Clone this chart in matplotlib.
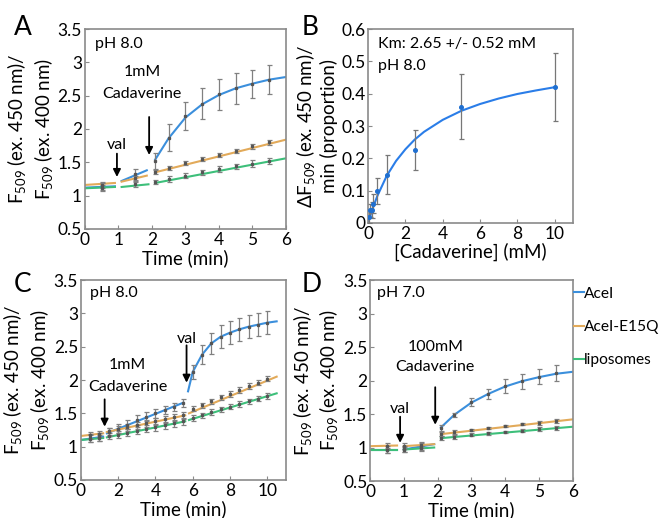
import matplotlib
matplotlib.use('Agg')
from matplotlib import pyplot as plt

plt.rcParams['font.family'] = ['Lato', 'DejaVu Sans']
plt.rcParams['mathtext.fontset'] = 'custom'
plt.rcParams['mathtext.rm'] = 'Lato'
plt.rcParams['mathtext.it'] = 'Lato'

blue = '#3b8fdc'
orange = '#e2aa5a'
green = '#3dbf7a'
series_names = ['AceI', 'AceI-E15Q', 'liposomes']

# ---- panel A (pH 8.0, 1mM cadaverine) ----
a_blue_lines = [([0, 0.9], [1.12, 1.14]),
                ([1.1, 1.85], [1.22, 1.38]),
                ([2.1, 2.5, 3, 3.5, 4, 4.5, 5, 5.5, 6],
                 [1.54, 1.86, 2.17, 2.37, 2.51, 2.61, 2.68, 2.74, 2.78])]
a_orange_lines = [([0, 0.9], [1.16, 1.19]),
                  ([1.1, 1.85], [1.21, 1.30]),
                  ([2.1, 6], [1.35, 1.84])]
a_green_lines = [([0, 0.9], [1.11, 1.13]),
                 ([1.1, 1.9], [1.13, 1.17]),
                 ([2.1, 6], [1.19, 1.56])]
a_blue_t = [0.5, 1.5, 2.1, 2.5, 3, 3.5, 4, 4.5, 5, 5.5]
a_blue_y = [1.13, 1.32, 1.52, 1.87, 2.2, 2.38, 2.52, 2.61, 2.67, 2.74]
a_blue_e = [0.06, 0.08, 0.12, 0.2, 0.21, 0.23, 0.23, 0.23, 0.21, 0.22]
a_orange_t = [0.5, 1.5, 2.1, 2.5, 3, 3.5, 4, 4.5, 5, 5.5]
a_orange_y = [1.16, 1.26, 1.36, 1.41, 1.49, 1.55, 1.61, 1.67, 1.74, 1.80]
a_orange_e = [0.04, 0.04, 0.03, 0.03, 0.03, 0.03, 0.03, 0.03, 0.04, 0.04]
a_green_t = [0.5, 1.5, 2.1, 2.5, 3, 3.5, 4, 4.5, 5, 5.5]
a_green_y = [1.12, 1.17, 1.20, 1.25, 1.30, 1.35, 1.40, 1.44, 1.48, 1.52]
a_green_e = [0.04, 0.04, 0.03, 0.04, 0.04, 0.04, 0.04, 0.04, 0.05, 0.05]

# ---- panel B (Km fit) ----
b_conc = [0.05, 0.1, 0.2, 0.25, 0.5, 1, 2.5, 5, 10]
b_rate = [0.02, 0.04, 0.04, 0.06, 0.10, 0.15, 0.225, 0.36, 0.42]
b_err = [0.02, 0.02, 0.025, 0.03, 0.04, 0.06, 0.062, 0.1, 0.105]
b_fit_x = [0, 0.1, 0.25, 0.5, 1, 1.5, 2, 2.5, 3, 4, 5, 6, 7, 8, 9, 10]
b_fit_y = [0, 0.019, 0.046, 0.084, 0.146, 0.192, 0.228, 0.258, 0.282,
           0.319, 0.347, 0.368, 0.385, 0.399, 0.410, 0.420]

# ---- panel C (pH 8.0, cadaverine then val) ----
c_blue_lines = [([0, 1.2], [1.10, 1.15]),
                ([1.4, 5.5], [1.20, 1.66]),
                ([5.75, 6, 6.5, 7, 7.5, 8, 8.5, 9, 9.5, 10, 10.5],
                 [1.83, 2.12, 2.38, 2.55, 2.65, 2.71, 2.76, 2.80, 2.83, 2.86, 2.88])]
c_orange_lines = [([0, 1.2], [1.16, 1.20]),
                  ([1.4, 5.6], [1.22, 1.47]),
                  ([5.8, 10.5], [1.50, 2.05])]
c_green_lines = [([0, 1.2], [1.10, 1.13]),
                 ([1.4, 5.6], [1.14, 1.38]),
                 ([5.8, 10.5], [1.40, 1.80])]
c_t1 = [0.5, 1, 1.5, 2, 2.5, 3, 3.5, 4, 4.5, 5, 5.5]
c_t2 = [6, 6.5, 7, 7.5, 8, 8.5, 9, 9.5, 10]
c_blue_y = [1.13, 1.15, 1.22, 1.27, 1.33, 1.40, 1.45, 1.50, 1.55, 1.60, 1.65,
            2.12, 2.38, 2.55, 2.65, 2.71, 2.76, 2.80, 2.83, 2.86]
c_blue_e = [0.06, 0.06, 0.06, 0.07, 0.07, 0.07, 0.07, 0.07, 0.06, 0.06, 0.06,
            0.1, 0.14, 0.16, 0.17, 0.17, 0.17, 0.17, 0.17, 0.17]
c_orange_y = [1.17, 1.19, 1.23, 1.26, 1.29, 1.32, 1.35, 1.38, 1.41, 1.44, 1.47,
              1.57, 1.62, 1.68, 1.74, 1.79, 1.85, 1.91, 1.96, 2.02]
c_green_y = [1.12, 1.13, 1.16, 1.18, 1.21, 1.24, 1.27, 1.29, 1.32, 1.35, 1.38,
             1.43, 1.47, 1.52, 1.56, 1.60, 1.64, 1.68, 1.72, 1.76]
c_small_e = [0.05] * 11 + [0.04] * 9

# ---- panel D (pH 7.0, 100mM cadaverine) ----
d_blue_lines = [([0, 0.8], [0.97, 0.97]),
                ([1.0, 1.9], [0.97, 1.05]),
                ([2.1, 2.5, 3, 3.5, 4, 4.5, 5, 5.5, 6],
                 [1.30, 1.49, 1.67, 1.80, 1.91, 1.99, 2.05, 2.10, 2.13])]
d_orange_lines = [([0, 0.8], [1.02, 1.03]),
                  ([1.0, 1.9], [1.02, 1.05]),
                  ([2.1, 6], [1.20, 1.42])]
d_green_lines = [([0, 0.8], [0.97, 0.97]),
                 ([1.0, 1.9], [0.97, 1.00]),
                 ([2.1, 6], [1.14, 1.31])]
d_t = [0.5, 1, 1.5, 2.1, 2.5, 3, 3.5, 4, 4.5, 5, 5.5]
d_blue_y = [0.97, 0.98, 1.01, 1.29, 1.49, 1.68, 1.80, 1.92, 1.99, 2.06, 2.11]
d_blue_e = [0.05, 0.05, 0.05, 0.05, 0.03, 0.06, 0.08, 0.1, 0.11, 0.11, 0.12]
d_orange_y = [1.02, 1.02, 1.04, 1.20, 1.23, 1.26, 1.29, 1.32, 1.35, 1.37, 1.39]
d_green_y = [0.96, 0.97, 0.99, 1.14, 1.16, 1.19, 1.21, 1.23, 1.25, 1.27, 1.29]
d_small_e = [0.04, 0.04, 0.04, 0.03, 0.03, 0.02, 0.02, 0.02, 0.02, 0.03, 0.03]

ylab = 'F$_{509}$ (ex. 450 nm)/\nF$_{509}$ (ex. 400 nm)'

fig = plt.figure(figsize=(6.62, 5.18), dpi=100)
axA = fig.add_axes([0.128, 0.558, 0.304, 0.386])
axB = fig.add_axes([0.556, 0.5695, 0.310, 0.3745])
axC = fig.add_axes([0.122, 0.0734, 0.310, 0.386])
axD = fig.add_axes([0.559, 0.0714, 0.306, 0.388])


def style(ax):
    for s in ax.spines.values():
        s.set_color('#8a8a8a')
        s.set_linewidth(1.2)
    ax.tick_params(direction='in', length=3, color='#8a8a8a', labelsize=12.5, pad=2)


def draw_lines(ax, segs, col, label=None):
    for i, (x, y) in enumerate(segs):
        ax.plot(x, y, color=col, lw=1.5, label=label if i == 0 else None, zorder=2)


def draw_pts(ax, t, y, e):
    ax.errorbar(t, y, yerr=e, fmt='s', ms=1.4, color='#555555', ecolor='#808080',
                elinewidth=0.9, capsize=1.8, capthick=0.9, zorder=3)


def arrow(ax, x, y0, y1):
    ax.annotate('', xy=(x, y1), xytext=(x, y0),
                arrowprops=dict(arrowstyle='-|>', color='black', lw=1.3,
                                mutation_scale=11, shrinkA=0, shrinkB=0))


def time_axis(ax, xmax, ticks):
    ax.set_xlim(0, xmax)
    ax.set_ylim(0.5, 3.5)
    ax.set_xticks(ticks)
    ax.set_yticks([0.5, 1, 1.5, 2, 2.5, 3, 3.5])
    ax.set_yticklabels(['0.5', '1', '1.5', '2', '2.5', '3', '3.5'])
    ax.set_xlabel('Time (min)', fontsize=13.5, labelpad=1)


# panel A
draw_lines(axA, a_blue_lines, blue)
draw_lines(axA, a_orange_lines, orange)
draw_lines(axA, a_green_lines, green)
draw_pts(axA, a_blue_t, a_blue_y, a_blue_e)
draw_pts(axA, a_orange_t, a_orange_y, a_orange_e)
draw_pts(axA, a_green_t, a_green_y, a_green_e)
time_axis(axA, 6, range(0, 7))
axA.set_ylabel(ylab, fontsize=13.5, labelpad=2)
axA.text(0.3, 3.27, 'pH 8.0', fontsize=11.5, va='center')
axA.text(1.71, 2.85, '1mM', fontsize=11.5, ha='center', va='center')
axA.text(1.71, 2.53, 'Cadaverine', fontsize=11.5, ha='center', va='center')
arrow(axA, 1.92, 2.18, 1.61)
axA.text(0.96, 1.76, 'val', fontsize=11.5, ha='center', va='center')
arrow(axA, 0.96, 1.63, 1.28)
style(axA)

# panel B
axB.plot(b_fit_x, b_fit_y, color='#2a7de8', lw=1.5, zorder=2)
axB.errorbar(b_conc, b_rate, yerr=b_err, fmt='o', ms=2.6, color='#1f6fd0', ecolor='#777777',
             elinewidth=0.9, capsize=1.8, capthick=0.9, zorder=3)
axB.set_xlim(0, 11)
axB.set_ylim(0, 0.6)
axB.set_xticks([0, 2, 4, 6, 8, 10])
axB.set_yticks([0, 0.1, 0.2, 0.3, 0.4, 0.5, 0.6])
axB.set_yticklabels(['0', '0.1', '0.2', '0.3', '0.4', '0.5', '0.6'])
axB.set_xlabel('[Cadaverine] (mM)', fontsize=13.5, labelpad=1)
axB.set_ylabel('$\\Delta$F$_{509}$ (ex. 450 nm)/\nmin (proportion)', fontsize=13.5, labelpad=2)
axB.text(0.55, 0.555, 'Km: 2.65 +/- 0.52 mM', fontsize=11.5, va='center')
axB.text(0.55, 0.485, 'pH 8.0', fontsize=11.5, va='center')
style(axB)

# panel C
draw_lines(axC, c_blue_lines, blue)
draw_lines(axC, c_orange_lines, orange)
draw_lines(axC, c_green_lines, green)
draw_pts(axC, c_t1 + c_t2, c_blue_y, c_blue_e)
draw_pts(axC, c_t1 + c_t2, c_orange_y, c_small_e)
draw_pts(axC, c_t1 + c_t2, c_green_y, c_small_e)
time_axis(axC, 11, [0, 2, 4, 6, 8, 10])
axC.set_ylabel(ylab, fontsize=13.5, labelpad=2)
axC.text(0.5, 3.3, 'pH 8.0', fontsize=11.5, va='center')
axC.text(2.5, 2.22, '1mM', fontsize=11.5, ha='center', va='center')
axC.text(2.5, 1.9, 'Cadaverine', fontsize=11.5, ha='center', va='center')
arrow(axC, 1.28, 1.71, 1.30)
axC.text(5.67, 2.62, 'val', fontsize=11.5, ha='center', va='center')
arrow(axC, 5.67, 2.52, 1.96)
style(axC)

# panel D
draw_lines(axD, d_blue_lines, blue, series_names[0])
draw_lines(axD, d_orange_lines, orange, series_names[1])
draw_lines(axD, d_green_lines, green, series_names[2])
draw_pts(axD, d_t, d_blue_y, d_blue_e)
draw_pts(axD, d_t, d_orange_y, d_small_e)
draw_pts(axD, d_t, d_green_y, d_small_e)
time_axis(axD, 6, range(0, 7))
axD.set_ylabel(ylab, fontsize=13.5, labelpad=2)
axD.text(0.2, 3.3, 'pH 7.0', fontsize=11.5, va='center')
axD.text(1.93, 2.5, '100mM', fontsize=11.5, ha='center', va='center')
axD.text(1.93, 2.2, 'Cadaverine', fontsize=11.5, ha='center', va='center')
arrow(axD, 1.93, 1.90, 1.34)
axD.text(0.89, 1.58, 'val', fontsize=11.5, ha='center', va='center')
arrow(axD, 0.89, 1.46, 1.07)
axD.legend(loc='upper left', bbox_to_anchor=(1.0, 0.975), frameon=False, fontsize=11.2,
           handlelength=0.6, handletextpad=0.05, labelspacing=1.25, borderaxespad=0.1,
           borderpad=0)
style(axD)

# panel letters
for lx, ly, letter in [(0.021, 0.932, 'A'), (0.455, 0.932, 'B'),
                       (0.021, 0.437, 'C'), (0.455, 0.437, 'D')]:
    fig.text(lx, ly, letter, fontsize=19, va='baseline')

fig.savefig('out.png', dpi=100)
